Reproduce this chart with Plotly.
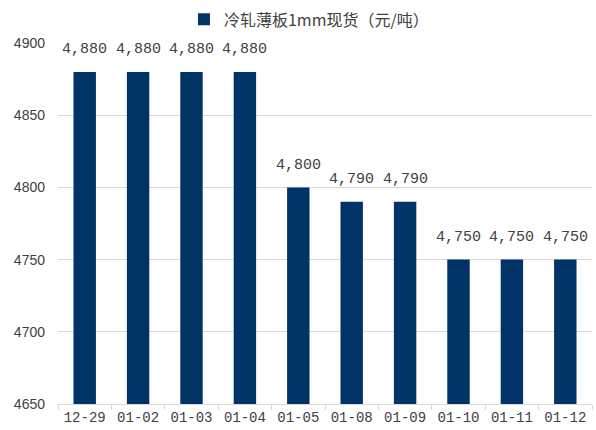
import plotly.graph_objects as go

dates = ["12-29", "01-02", "01-03", "01-04", "01-05", "01-08", "01-09", "01-10", "01-11", "01-12"]
prices = [4880, 4880, 4880, 4880, 4800, 4790, 4790, 4750, 4750, 4750]
series_name = "冷轧薄板1mm现货（元/吨）"

bar_color = "#003366"
grid_color = "#d9d9d9"

fig = go.Figure()
fig.add_trace(go.Bar(
    x=dates,
    y=prices,
    name=series_name,
    marker=dict(color=bar_color, line=dict(width=0)),
    width=0.42,
    showlegend=True,
))

# value labels above each bar
for d, v in zip(dates, prices):
    fig.add_annotation(
        x=d, y=v, text=f"{v:,}", showarrow=False,
        yanchor="middle", yshift=22,
        font=dict(family="Liberation Mono, monospace", size=15, color="#404040"),
    )

fig.update_layout(
    width=596, height=430,
    margin=dict(l=58, r=4, t=43, b=26),
    paper_bgcolor="white",
    plot_bgcolor="white",
    legend=dict(
        orientation="h", x=0.47, xanchor="center", y=0.955, yanchor="middle",
        yref="container", font=dict(family="Noto Sans CJK SC", size=16, color="#404040"),
        bgcolor="rgba(0,0,0,0)",
    ),
    xaxis=dict(
        type="category",
        automargin=False,
        tickangle=0,
        showline=True, linecolor=grid_color, linewidth=1,
        ticks="outside", tickson="boundaries", ticklen=5, tickcolor=grid_color,
        tickfont=dict(family="Liberation Mono, monospace", size=14, color="#404040"),
        showgrid=False,
    ),
    yaxis=dict(
        range=[4650, 4900],
        dtick=50,
        automargin=False,
        showgrid=True, gridcolor=grid_color, gridwidth=1,
        zeroline=False, showline=False,
        tickfont=dict(family="Liberation Sans, Arial", size=14, color="#404040"),
        ticks="", ticklabelstandoff=12,
    ),
)

fig.write_html("out.html")
